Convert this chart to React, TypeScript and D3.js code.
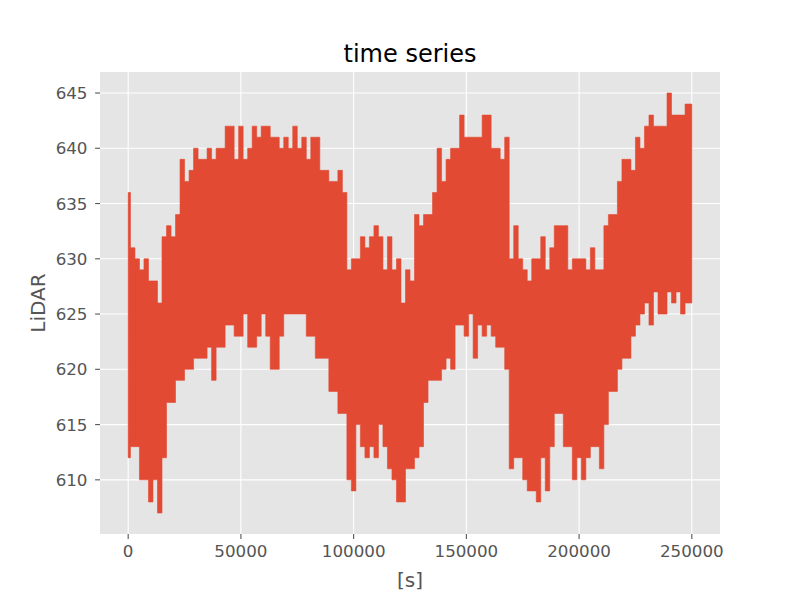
import React from "react";
import * as d3 from "d3";

// sample times [s] for each envelope column
const times = [
  0, 2000, 4000, 6000, 8000, 10000, 12000, 14000, 16000, 18000, 20000,
  22000, 24000, 26000, 28000, 30000, 32000, 34000, 36000, 38000, 40000,
  42000, 44000, 46000, 48000, 50000, 52000, 54000, 56000, 58000, 60000,
  62000, 64000, 66000, 68000, 70000, 72000, 74000, 76000, 78000, 80000,
  82000, 84000, 86000, 88000, 90000, 92000, 94000, 96000, 98000, 100000,
  102000, 104000, 106000, 108000, 110000, 112000, 114000, 116000, 118000, 120000,
  122000, 124000, 126000, 128000, 130000, 132000, 134000, 136000, 138000, 140000,
  142000, 144000, 146000, 148000, 150000, 152000, 154000, 156000, 158000, 160000,
  162000, 164000, 166000, 168000, 170000, 172000, 174000, 176000, 178000, 180000,
  182000, 184000, 186000, 188000, 190000, 192000, 194000, 196000, 198000, 200000,
  202000, 204000, 206000, 208000, 210000, 212000, 214000, 216000, 218000, 220000,
  222000, 224000, 226000, 228000, 230000, 232000, 234000, 236000, 238000, 240000,
  242000, 244000, 246000, 248000, 250000,
];

// upper envelope of the LiDAR signal
const upper = [
  636, 631, 630, 629, 630, 628, 628, 626, 632, 633, 632, 634, 639, 637, 638, 640, 639, 639, 640, 639, 640,
  640, 642, 642, 639, 642, 639, 640, 642, 641, 642, 642, 641, 641, 640, 641, 640, 642, 640, 641, 639, 641,
  641, 638, 638, 637, 637, 638, 636, 629, 630, 630, 632, 631, 632, 633, 632, 629, 632, 629, 630, 626, 629, 628,
  634, 633, 634, 634, 636, 640, 637, 639, 640, 640, 643, 641, 641, 641, 641, 643, 643, 640, 640, 639, 641,
  630, 633, 630, 629, 628, 630, 630, 632, 629, 631, 633, 633, 633, 629, 630, 630, 630, 629, 631, 629, 629,
  633, 634, 634, 637, 639, 639, 638, 641, 640, 642, 643, 642, 642, 642, 645, 643, 643, 643, 644, 644,
];

// lower envelope of the LiDAR signal
const lower = [
  612, 613, 613, 610, 610, 608, 610, 607, 612, 617, 617, 619, 619, 620, 620, 621, 621, 621, 622, 619, 622,
  622, 624, 624, 623, 623, 625, 622, 622, 623, 625, 623, 620, 620, 623, 625, 625, 625, 625, 625, 623, 623,
  621, 621, 621, 618, 618, 616, 616, 610, 609, 615, 613, 612, 613, 612, 615, 613, 611, 610, 608, 608, 611, 611,
  612, 613, 617, 619, 619, 619, 620, 621, 620, 624, 624, 623, 625, 621, 624, 623, 624, 623, 622, 622, 620,
  611, 612, 612, 610, 609, 609, 608, 612, 609, 613, 616, 616, 613, 613, 610, 612, 610, 612, 613, 613, 611,
  615, 618, 618, 620, 621, 621, 623, 624, 625, 626, 624, 627, 625, 625, 627, 626, 627, 625, 626, 626,
];

const xTicks = [0, 50000, 100000, 150000, 200000, 250000];
const yTicks = [610, 615, 620, 625, 630, 635, 640, 645];

const W = 800;
const H = 600;
const margin = { top: 72, right: 80, bottom: 66, left: 100 };
const FONT = "DejaVu Sans, sans-serif";

export default function App() {
  const x = d3
    .scaleLinear()
    .domain([-12500, 262500])
    .range([margin.left, W - margin.right]);
  const y = d3
    .scaleLinear()
    .domain([605.1, 646.9])
    .range([H - margin.bottom, margin.top]);

  const rows = times.map((t, i) => ({ t, hi: upper[i], lo: lower[i] }));
  const band = d3
    .area<{ t: number; hi: number; lo: number }>()
    .x((d) => x(d.t))
    .y0((d) => y(d.lo))
    .y1((d) => y(d.hi))
    .curve(d3.curveStep)(rows);

  const x0 = margin.left;
  const x1 = W - margin.right;
  const y0 = H - margin.bottom;
  const y1 = margin.top;

  return (
    <svg
      width={W}
      height={H}
      style={{ position: "absolute", left: 0, top: 0, background: "#fff" }}
      fontFamily={FONT}
    >
      <rect x={x0} y={y1} width={x1 - x0} height={y0 - y1} fill="#E5E5E5" />
      {/* grid */}
      {xTicks.map((t) => (
        <line key={"gx" + t} x1={x(t)} x2={x(t)} y1={y1} y2={y0} stroke="#fff" strokeWidth={1.1} />
      ))}
      {yTicks.map((v) => (
        <line key={"gy" + v} x1={x0} x2={x1} y1={y(v)} y2={y(v)} stroke="#fff" strokeWidth={1.1} />
      ))}
      <path d={band || ""} fill="#E24A33" stroke="#E24A33" strokeWidth={0.6} />
      {/* x axis */}
      {xTicks.map((t) => (
        <g key={"tx" + t} transform={`translate(${x(t)},${y0})`}>
          <line y1={0} y2={4.9} stroke="#555555" strokeWidth={1.1} />
          <text y={23} textAnchor="middle" fontSize={16.7} fill="#555555">
            {String(t)}
          </text>
        </g>
      ))}
      {/* y axis */}
      {yTicks.map((v) => (
        <g key={"ty" + v} transform={`translate(${x0},${y(v)})`}>
          <line x1={0} x2={-4.9} stroke="#555555" strokeWidth={1.1} />
          <text x={-12.5} dy="0.36em" textAnchor="end" fontSize={16.7} fill="#555555">
            {v}
          </text>
        </g>
      ))}
      <text x={(x0 + x1) / 2} y={587} textAnchor="middle" fontSize={20} fill="#555555">
        [s]
      </text>
      <text
        transform={`translate(45,${(y0 + y1) / 2}) rotate(-90)`}
        textAnchor="middle"
        fontSize={20}
        fill="#555555"
      >
        LiDAR
      </text>
      <text x={(x0 + x1) / 2} y={62} textAnchor="middle" fontSize={24} fill="#000">
        time series
      </text>
    </svg>
  );
}
